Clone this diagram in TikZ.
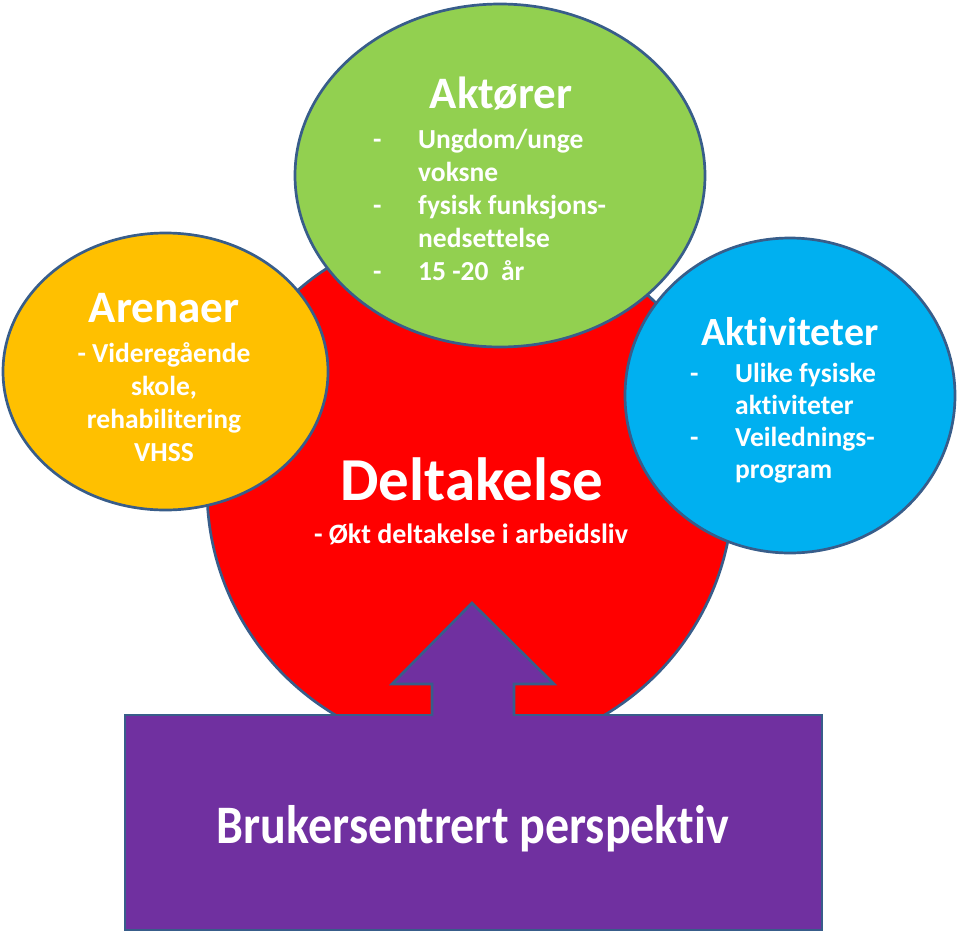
\documentclass[tikz,border=0pt]{standalone}
\usepackage{fontspec}
\setmainfont{Carlito}[Ligatures={NoCommon}]
\definecolor{ArenaYellow}{RGB}{255, 192, 0}
\definecolor{ActorGreen}{RGB}{146, 208, 80}
\definecolor{CoreRed}{RGB}{255, 0, 0}
\definecolor{ActBlue}{RGB}{0, 176, 240}
\definecolor{UserPurple}{RGB}{112, 48, 160}
\definecolor{EdgeBlue}{RGB}{56, 93, 138}
\usepackage{tikz}
\usetikzlibrary{positioning, shapes}
\newcommand{\dashitem}{\makebox[45pt][l]{-}}
\newcommand{\moreitem}{\hspace*{45pt}}
\tikzset{
    blob/.style={ellipse, draw=EdgeBlue, line width=2.7pt, inner sep=0pt},
    headtxt/.style={anchor=base, text=white, inner sep=0pt, font=\bfseries\fontsize{45}{54}\selectfont},
    bodytxt/.style={text=white, inner sep=0pt, font=\bfseries\fontsize{27.5}{33}\selectfont},
}

\begin{document}
\begin{tikzpicture}[x=1pt, y=-1pt]
        \useasboundingbox (0,0) rectangle (960,937);

        \node[blob, fill=CoreRed, minimum width=526pt, minimum height=526pt] (delt) at (470,489) {};
        \node[blob, fill=ArenaYellow, minimum width=325pt, minimum height=277pt] (arena) at (165.5,371.5) {};
        \node[blob, fill=ActorGreen, minimum width=410pt, minimum height=343pt] (aktor) at (500,175.5) {};
        \node[blob, fill=ActBlue, minimum width=330pt, minimum height=315pt] (aktiv) at (790,395.5) {};

        \node[draw=EdgeBlue, line width=2.7pt, fill=UserPurple, minimum width=697pt, minimum height=215pt] (bruker) at (473.5,822.5) {};
        \fill[UserPurple] (432,718) -- (432,684) -- (392,684) -- (472,603) -- (554,684) -- (514,684) -- (514,718) -- cycle;
        \draw[EdgeBlue, line width=2.7pt] (432,716) -- (432,684) -- (392,684) -- (472,603) -- (554,684) -- (514,684) -- (514,716);

        \node[headtxt] (arena-head) at (164,322) {Arenaer};
        \node[bodytxt, anchor=base, align=center] (arena-body) at (164,461) {- Videregående\\skole,\\rehabilitering\\VHSS};

        \node[headtxt] (aktor-head) at (501,108) {Aktører};
        \node[bodytxt, anchor=base west, align=left] (aktor-body) at (373,280)
            {\dashitem Ungdom/unge\\\moreitem voksne\\\dashitem fysisk funksjons-\\\moreitem nedsettelse\\\dashitem 15 -20\ \ år};

        \node[headtxt, font=\bfseries\fontsize{40}{48}\selectfont] (aktiv-head) at (790,345) {Aktiviteter};
        \node[bodytxt, anchor=base west, align=left, font=\bfseries\fontsize{27.5}{32}\selectfont] (aktiv-body) at (690,478)
            {\dashitem Ulike fysiske\\\moreitem aktiviteter\\\dashitem Veilednings-\\\moreitem program};

        \node[headtxt, font=\bfseries\fontsize{61}{70}\selectfont] (delt-head) at (472,500) {Deltakelse};
        \node[bodytxt, anchor=base, font=\bfseries\fontsize{28}{33}\selectfont] (delt-body) at (471,543) {- Økt deltakelse i arbeidsliv};

        \node[headtxt, font=\bfseries\fontsize{48}{56}\selectfont] (bruker-txt) at (473,843) {\scalebox{1}[1.13]{Brukersentrert perspektiv}};
    \end{tikzpicture}
\end{document}
